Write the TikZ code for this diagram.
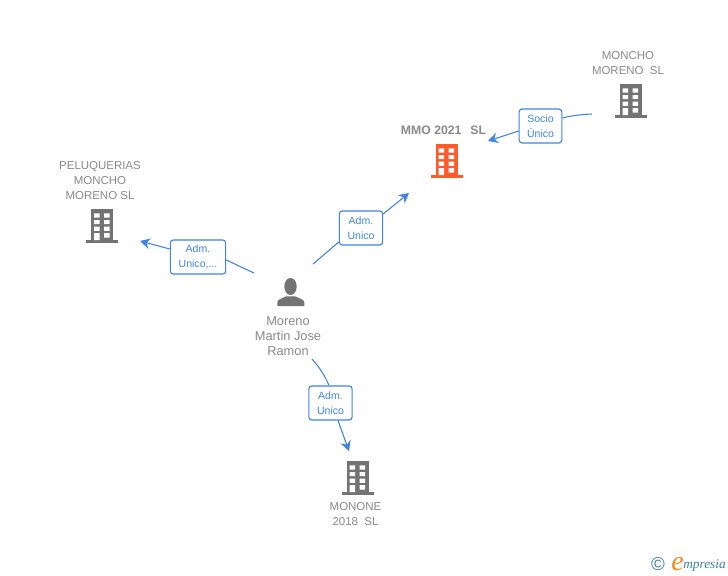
\documentclass[tikz,border=0pt]{standalone}
\usepackage{fontspec}
\setmainfont{Liberation Sans}
\newfontfamily\logofont{Liberation Serif}
\usetikzlibrary{arrows.meta}
\definecolor{lbl}{HTML}{8A8A8A}
\definecolor{icon}{HTML}{737373}
\definecolor{orng}{HTML}{FF5A2B}
\definecolor{blu}{HTML}{3F84E0}
\definecolor{logob}{HTML}{3F7F96}
\definecolor{logoo}{HTML}{F08A1D}
\tikzset{
  every picture/.append style={x=0.75pt,y=-0.75pt},
  lab/.style={align=center,text=lbl,font=\fontsize{8.6pt}{11.25pt}\selectfont,inner sep=0pt},
  role/.style={draw=blu,line width=0.85pt,rounded corners=2.2pt,fill=white,align=center,text=blu,
     font=\fontsize{7.9pt}{11.25pt}\selectfont,inner sep=0pt,minimum height=25.5pt},
  conn/.style={draw=blu,line width=0.8pt},
  tip/.style={-{Stealth[length=7.5pt,width=8pt,inset=2.5pt]}},
}
\newcommand{\bldg}[4]{% name, cx, top y, colour
  \begin{scope}[shift={(#2,#3)}]
    \coordinate (#1) at (0,16);
    \fill[#4] (-11,0) rectangle (11,31);
    \fill[#4] (-16,30.5) rectangle (16,33.7);
    \fill[white] (-7.8,4.3) rectangle (-2.5,8.7) (2.2,4.3) rectangle (7.5,8.7)
      (-7.8,11) rectangle (-2.5,15.2) (2.2,11) rectangle (7.5,15.2)
      (-7.8,17.6) rectangle (-2.5,21.8) (2.2,17.6) rectangle (7.5,21.8)
      (-7.8,24) rectangle (-2.5,31) (2.2,24) rectangle (7.5,28.5);
  \end{scope}}
\begin{document}
\begin{tikzpicture}
\useasboundingbox (0,0) rectangle (728,575);
\fill[white] (0,0) rectangle (728,575);

\bldg{bmmo}{446.5}{144}{orng}
\bldg{bmon}{630.5}{84}{icon}
\bldg{bpel}{102}{209}{icon}
\bldg{bmne}{357.5}{461}{icon}

% person
\coordinate (person) at (291,292);
\fill[icon] (290.5,286.5) ellipse (6.2 and 8.5);
\fill[icon] (277.3,306) -- (277.3,302.5) .. controls (277.5,300.5) and (278.5,299.8) .. (280,299.2)
   -- (286,296.3) -- (295,296.3) -- (301.6,299.2)
   .. controls (303,299.8) and (304,300.5) .. (304.3,302.5) -- (304.3,306) -- cycle;

\node[lab,font=\fontsize{9.2pt}{11.25pt}\selectfont\bfseries] (tmmo) at (443.5,130) {MMO 2021\ \ \,SL};
\node[lab] (tmon) at (628,63) {MONCHO\\MORENO\ \ SL};
\node[lab] (tpel) at (100,181) {PELUQUERIAS\\MONCHO\\MORENO SL};
\node[lab,font=\fontsize{9.6pt}{11.25pt}\selectfont] (tper) at (288,336) {Moreno\\Martin Jose\\Ramon};
\node[lab] (tmne) at (355.5,514.5) {MONONE\\2018\ \ SL};

\coordinate (c1s) at (592,114);
\coordinate (c1e) at (488,141);
\coordinate (c2s) at (313,264);
\coordinate (c2e) at (409,193);
\coordinate (c3s) at (254,273);
\coordinate (c3e) at (140,241);
\coordinate (c4s) at (312,359);
\coordinate (c4e) at (349,451);

\node[role,minimum width=32pt] (r1) at (540.5,126) {Socio\\Único};
\node[role,minimum width=32.5pt] (r2) at (361,228) {Adm.\\Unico};
\node[role,minimum width=41.5pt] (r3) at (198,257) {Adm.\\Unico,...};
\node[role,minimum width=32.5pt] (r4) at (330.5,403) {Adm.\\Unico};

\draw[conn] (c1s) .. controls (580,114.5) and (570,116) .. (r1.east |- 0,118);
\draw[conn,tip] (r1.west |- 0,131) -- (c1e);
\draw[conn] (c2s) -- (r2.west |- 0,242);
\draw[conn,tip] (r2.east |- 0,214) -- (c2e);
\draw[conn] (c3s) -- (r3.east |- 0,260);
\draw[conn,tip] (r3.west |- 0,249) -- (c3e);
\draw[conn] (c4s) .. controls (320,368) and (325,376) .. (r4.north -| 329,0);
\draw[conn,tip] (r4.south -| 338,0) -- (c4e);

% logo
\node[inner sep=0pt,text=logob,font=\fontsize{14pt}{14pt}\selectfont] (copy) at (658,564) {©};
\node[inner sep=0pt,anchor=base west,text=logob,font=\fontsize{10pt}{10pt}\logofont\itshape] (logo) at (683,568) {mpresia};
\node[inner sep=0pt,anchor=base east,text=logoo,font=\fontsize{21pt}{21pt}\logofont\itshape] (loge) at (684,570) {e};
\end{tikzpicture}
\end{document}
